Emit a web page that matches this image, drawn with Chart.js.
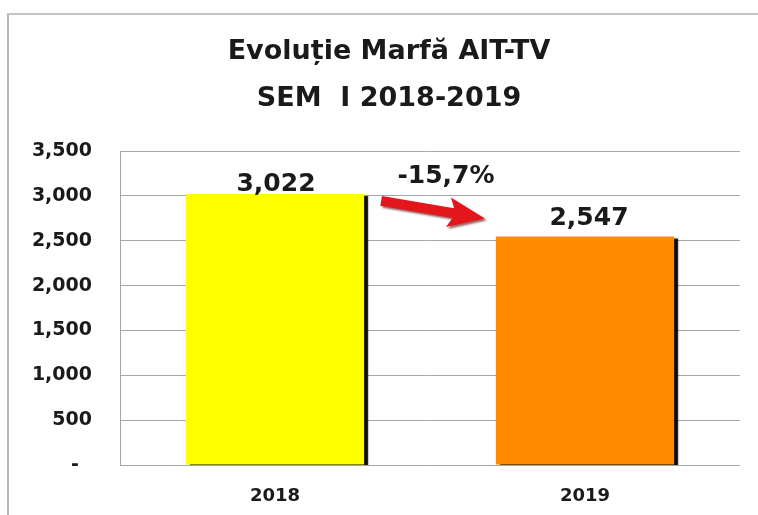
<!DOCTYPE html>
<html>
<head>
<meta charset="utf-8">
<script src="https://cdn.jsdelivr.net/npm/chart.js@4/dist/chart.umd.min.js"></script>
<style>
  body { margin: 0; background: #fff; }
  #wrap { position: relative; width: 758px; height: 515px; }
  #frame { position: absolute; left: 7px; top: 13px; right: 0; bottom: -2px;
           border-left: 2px solid #b8b8b8; border-top: 2px solid #c4c4c4; }
  canvas { position: absolute; left: 0; top: 0; }
</style>
</head>
<body>
<div id="wrap">
  <div id="frame"></div>
  <canvas id="chart" width="758" height="515"></canvas>
</div>
<script>
const categories = ['2018', '2019'];
const values = [3022, 2547];
const barColors = ['#ffff00', '#ff8a00'];
const yTicks = [0, 500, 1000, 1500, 2000, 2500, 3000, 3500];
const titleLines = ['Evoluție Marfă AIT-TV', 'SEM  I 2018-2019'];

const FONT = '"DejaVu Sans", sans-serif';
const fmt = v => v.toLocaleString('en-US');

// title is centred on the whole frame, not on the plot, so draw it here
const frameTitle = {
  id: 'frameTitle',
  afterDraw(chart) {
    const ctx = chart.ctx;
    ctx.save();
    ctx.fillStyle = '#1a1a1a';
    ctx.font = 'bold 27px ' + FONT;
    ctx.textAlign = 'center';
    ctx.textBaseline = 'middle';
    titleLines.forEach((t, i) => ctx.fillText(t, 389, 52 + i * 47));
    ctx.restore();
  }
};

// black drop shadow on the bars, like the Excel original
const barShadow = {
  id: 'barShadow',
  beforeDatasetsDraw(chart) {
    const ctx = chart.ctx;
    ctx.save();
    ctx.shadowColor = 'rgba(0,0,0,0.95)';
    ctx.shadowOffsetX = 4;
    ctx.shadowOffsetY = 2;
    ctx.shadowBlur = 1;
  },
  afterDatasetsDraw(chart) {
    chart.ctx.restore();
  }
};

// value labels, change arrow and percentage
const annotations = {
  id: 'annotations',
  afterDraw(chart) {
    const ctx = chart.ctx;
    const bars = chart.getDatasetMeta(0).data;
    ctx.save();
    ctx.fillStyle = '#1a1a1a';
    ctx.font = 'bold 25px ' + FONT;
    ctx.textAlign = 'center';
    ctx.textBaseline = 'alphabetic';
    const dy = [3, 11];
    const dx = [1, 4];
    bars.forEach((b, i) => {
      ctx.fillText(fmt(values[i]), b.x + dx[i], b.y - dy[i]);
    });

    const b0 = bars[0], b1 = bars[1];
    const x0 = b0.x + b0.width / 2 + 17, y0 = b0.y + 7;
    const x1 = b1.x - b1.width / 2 - 11, y1 = b1.y - 18;
    const ang = Math.atan2(y1 - y0, x1 - x0);
    const headLen = 32, headW = 15, shaft = 5;
    ctx.translate(x0, y0);
    ctx.rotate(ang);
    const len = Math.hypot(x1 - x0, y1 - y0);
    ctx.shadowColor = 'rgba(90,0,0,0.6)';
    ctx.shadowOffsetX = 2;
    ctx.shadowOffsetY = 2;
    ctx.shadowBlur = 2;
    ctx.fillStyle = '#e3161b';
    ctx.beginPath();
    ctx.moveTo(0, -shaft);
    ctx.lineTo(len - headLen, -shaft);
    ctx.lineTo(len - headLen - 5, -headW);
    ctx.lineTo(len, 0);
    ctx.lineTo(len - headLen - 5, headW);
    ctx.lineTo(len - headLen, shaft);
    ctx.lineTo(0, shaft);
    ctx.closePath();
    ctx.fill();
    ctx.restore();

    const pct = (values[1] - values[0]) / values[0] * 100;
    const pctText = pct.toFixed(1).replace('.', ',') + '%';
    ctx.save();
    ctx.fillStyle = '#1a1a1a';
    ctx.font = 'bold 25px ' + FONT;
    ctx.textAlign = 'center';
    ctx.fillText(pctText, (x0 + x1) / 2 + 13, y0 - 18);
    ctx.restore();
  }
};

new Chart(document.getElementById('chart'), {
  type: 'bar',
  data: {
    labels: categories,
    datasets: [{
      data: values,
      backgroundColor: barColors,
      borderWidth: 0,
      barPercentage: 0.575,
      categoryPercentage: 1
    }]
  },
  options: {
    responsive: false,
    animation: false,
    layout: { padding: { left: 0, right: 18, top: 151, bottom: 0 } },
    plugins: {
      legend: { display: false },
      tooltip: { enabled: false },
      title: { display: false }
    },
    scales: {
      x: {
        afterFit: s => { s.height = 50; },
        grid: { display: false, drawTicks: false },
        border: { display: false },
        ticks: { color: '#1a1a1a', padding: 21, font: { family: FONT, size: 18, weight: 'bold' } }
      },
      y: {
        min: 0,
        max: 3500,
        afterBuildTicks: s => { s.ticks = yTicks.map(v => ({ value: v })); },
        afterFit: s => { s.width = 120; },
        grid: { color: '#a6a6a6', drawTicks: false, lineWidth: 1 },
        border: { display: true, color: '#a6a6a6' },
        ticks: {
          color: '#1a1a1a',
          padding: 28,
          font: { family: FONT, size: 19, weight: 'bold' },
          callback: v => v === 0 ? '-  ' : fmt(v)
        }
      }
    }
  },
  plugins: [frameTitle, barShadow, annotations]
});
</script>
</body>
</html>
